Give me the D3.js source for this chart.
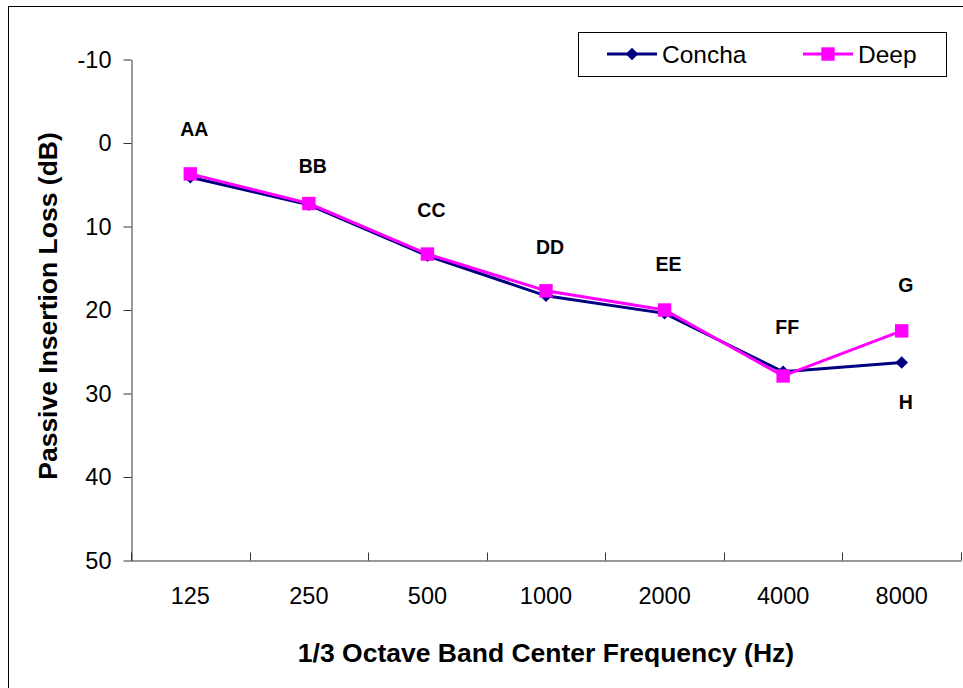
<!DOCTYPE html>
<html>
<head>
<meta charset="utf-8">
<script src="https://cdn.jsdelivr.net/npm/d3@7"></script>
<style>
  body { margin: 0; background: #fff; }
  svg { display: block; font-family: Arial, "Liberation Sans", sans-serif; }
</style>
</head>
<body>
<div id="chart"></div>
<script>
// Chart data
const frequencies = ["125", "250", "500", "1000", "2000", "4000", "8000"];
const conchaValues = [4.1, 7.4, 13.5, 18.3, 20.4, 27.4, 26.3];
const deepValues = [3.7, 7.25, 13.3, 17.7, 20.0, 27.9, 22.5];
const yTicks = [-10, 0, 10, 20, 30, 40, 50];
const pointLabels = ["AA", "BB", "CC", "DD", "EE", "FF", "G", "H"];
const pointLabelFreq = ["125", "250", "500", "1000", "2000", "4000", "8000", "8000"];
const pointLabelValues = [-1.6, 2.8, 8.1, 12.5, 14.5, 22.0, 17.0, 31.0];

const W = 963, H = 688;
const svg = d3.select("#chart").append("svg")
    .attr("width", W)
    .attr("height", H);

// outer frame (right/bottom run off the picture)
svg.append("rect")
    .attr("x", 8.5).attr("y", 6.5)
    .attr("width", W + 10).attr("height", H + 10)
    .attr("fill", "none").attr("stroke", "#000").attr("stroke-width", 1);

const x = d3.scaleBand()
    .domain(frequencies)
    .range([131, 961])
    .padding(0);

const y = d3.scaleLinear()
    .domain([-10, 50])
    .range([59.5, 560.5]);

const axisColor = "#333";

// y axis
const yAxis = svg.append("g")
    .attr("transform", "translate(131.5,0)")
    .call(d3.axisLeft(y).tickValues(yTicks).tickFormat(d => String(d))
        .tickSize(8).tickPadding(12).tickSizeOuter(0));
yAxis.select(".domain").attr("stroke", axisColor);
yAxis.selectAll(".tick line").attr("stroke", axisColor);
yAxis.selectAll("text").attr("font-size", 23.5).attr("fill", "#000");

// x axis (labels only, ticks between categories)
const xAxis = svg.append("g")
    .attr("transform", `translate(0,${y(50)})`)
    .call(d3.axisBottom(x).tickSize(0).tickPadding(27));
xAxis.select(".domain").attr("stroke", axisColor);
xAxis.selectAll("text").attr("font-size", 23.5).attr("fill", "#000");

const bounds = frequencies.map(f => x(f)).concat([x.range()[1]]);
svg.append("g").selectAll("line")
    .data(bounds)
    .join("line")
    .attr("x1", d => Math.round(d) + 0.5)
    .attr("x2", d => Math.round(d) + 0.5)
    .attr("y1", y(50))
    .attr("y2", y(50) - 8)
    .attr("stroke", axisColor);

// axis titles
svg.append("text")
    .attr("x", 546).attr("y", 662)
    .attr("text-anchor", "middle")
    .attr("font-size", 26.5)
    .attr("font-weight", "bold")
    .text("1/3 Octave Band Center Frequency (Hz)");

svg.append("text")
    .attr("transform", "translate(57,306) rotate(-90)")
    .attr("text-anchor", "middle")
    .attr("font-size", 26.5)
    .attr("font-weight", "bold")
    .text("Passive Insertion Loss (dB)");

const cx = f => x(f) + x.bandwidth() / 2;

const line = d3.line()
    .x((d, i) => cx(frequencies[i]))
    .y(d => y(d));

const diamond = d3.symbol().type(d3.symbolDiamond2).size(100);
const square = d3.symbol().type(d3.symbolSquare).size(180);

// Concha series
svg.append("path")
    .datum(conchaValues)
    .attr("fill", "none")
    .attr("stroke", "#000080")
    .attr("stroke-width", 3)
    .attr("d", line);
svg.append("g").selectAll("path")
    .data(conchaValues)
    .join("path")
    .attr("transform", (d, i) => `translate(${cx(frequencies[i])},${y(d)})`)
    .attr("d", diamond)
    .attr("fill", "#000080");

// Deep series
svg.append("path")
    .datum(deepValues)
    .attr("fill", "none")
    .attr("stroke", "#ff00ff")
    .attr("stroke-width", 3)
    .attr("d", line);
svg.append("g").selectAll("path")
    .data(deepValues)
    .join("path")
    .attr("transform", (d, i) => `translate(${cx(frequencies[i])},${y(d)})`)
    .attr("d", square)
    .attr("fill", "#ff00ff");

// point annotations
svg.append("g").selectAll("text")
    .data(pointLabels)
    .join("text")
    .attr("x", (d, i) => cx(pointLabelFreq[i]) + 4)
    .attr("y", (d, i) => y(pointLabelValues[i]))
    .attr("dy", "0.35em")
    .attr("text-anchor", "middle")
    .attr("font-size", 19.5)
    .attr("font-weight", "bold")
    .text(d => d);

// legend
const legend = svg.append("g");
legend.append("rect")
    .attr("x", 578.5).attr("y", 32.5)
    .attr("width", 368).attr("height", 44)
    .attr("fill", "#fff").attr("stroke", "#000");

const legendItems = [
    { name: "Concha", color: "#000080", sym: diamond, x0: 607 },
    { name: "Deep", color: "#ff00ff", sym: square, x0: 803 }
];
legendItems.forEach(it => {
    legend.append("line")
        .attr("x1", it.x0).attr("x2", it.x0 + 50)
        .attr("y1", 54).attr("y2", 54)
        .attr("stroke", it.color).attr("stroke-width", 3);
    legend.append("path")
        .attr("transform", `translate(${it.x0 + 25},54)`)
        .attr("d", it.sym)
        .attr("fill", it.color);
    legend.append("text")
        .attr("x", it.x0 + 55).attr("y", 54)
        .attr("dy", "0.35em")
        .attr("font-size", 24.5)
        .text(it.name);
});
</script>
</body>
</html>
